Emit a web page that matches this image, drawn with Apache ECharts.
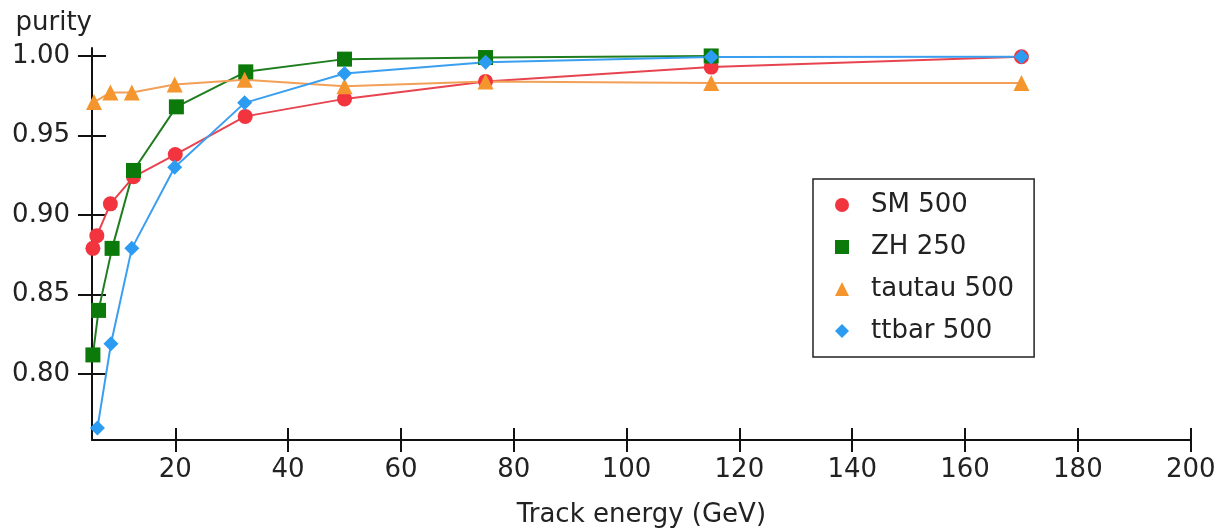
<!DOCTYPE html>
<html>
<head>
<meta charset="utf-8">
<script src="https://cdn.jsdelivr.net/npm/echarts@6/dist/echarts.min.js"></script>
<style>
  html, body { margin: 0; padding: 0; background: #fff; }
  #chart { width: 1219px; height: 529px; }
</style>
</head>
<body>
<div id="chart"></div>
<script>
// ---- data ----
const seriesNames = ['SM 500', 'ZH 250', 'tautau 500', 'ttbar 500'];

const smX = [5.4, 6.1, 8.5, 12.6, 20.0, 32.4, 50, 75, 115, 170];
const smY = [0.879, 0.887, 0.907, 0.924, 0.938, 0.962, 0.973, 0.984, 0.993, 0.9995];

const zhX = [5.4, 6.4, 8.8, 12.6, 20.2, 32.5, 50, 75, 115];
const zhY = [0.812, 0.840, 0.879, 0.928, 0.968, 0.990, 0.998, 0.999, 1.000];

const tautauX = [5.6, 8.5, 12.3, 19.9, 32.3, 50, 75, 115, 170];
const tautauY = [0.971, 0.977, 0.977, 0.982, 0.985, 0.981, 0.984, 0.983, 0.983];

const ttbarX = [6.2, 8.6, 12.3, 19.9, 32.3, 50, 75, 115, 170];
const ttbarY = [0.766, 0.819, 0.879, 0.930, 0.9705, 0.989, 0.996, 0.9994, 0.9995];

const xTicks = [20, 40, 60, 80, 100, 120, 140, 160, 180, 200];
const yTicks = [0.80, 0.85, 0.90, 0.95, 1.00];

const xMin = 5.24, xMax = 200;
const yMin = 0.7585, yMax = 1.005;

// ---- chart ----
const FONT = 'DejaVu Sans';
const TXT = '#222';
const zip = (xs, ys) => xs.map((x, i) => [x, ys[i]]);

const colors = {
  'SM 500': { sym: '#f2343f', line: '#e8444f' },
  'ZH 250': { sym: '#0b7a0b', line: '#1f7d1f' },
  'tautau 500': { sym: '#f5952e', line: '#f2a057' },
  'ttbar 500': { sym: '#2b9cf2', line: '#3a9ff0' }
};

function mkSeries(name, xs, ys, symbol, size) {
  return {
    name: name,
    type: 'line',
    data: zip(xs, ys),
    symbol: symbol,
    symbolSize: size,
    showSymbol: true,
    clip: true,
    itemStyle: { color: colors[name].sym },
    lineStyle: { color: colors[name].line, width: 2 },
    emphasis: { disabled: true },
    z: 2
  };
}

const chart = echarts.init(document.getElementById('chart'), null, { renderer: 'canvas' });

const baseX = {
  type: 'value', min: xMin, max: xMax, position: 'bottom',
  splitLine: { show: false }
};
const baseY = {
  type: 'value', min: yMin, max: yMax, position: 'left',
  splitLine: { show: false }
};

chart.setOption({
  animation: false,
  backgroundColor: '#fff',
  textStyle: { fontFamily: FONT },
  grid: { left: 92, right: 28.3, top: 48, bottom: 89, containLabel: false, outerBoundsMode: 'none' },
  legend: {
    orient: 'vertical',
    left: 813, top: 179,
    padding: [13, 20, 13, 22],
    itemWidth: 14, itemHeight: 14, itemGap: 16,
    backgroundColor: '#fff',
    borderColor: '#222', borderWidth: 1.5,
    selectedMode: false,
    textStyle: { fontFamily: FONT, fontSize: 26, color: TXT, padding: [0, 0, 0, 17] },
    data: [
      { name: 'SM 500', icon: 'circle' },
      { name: 'ZH 250', icon: 'rect' },
      { name: 'tautau 500', icon: 'triangle' },
      { name: 'ttbar 500', icon: 'diamond' }
    ]
  },
  xAxis: [
    Object.assign({}, baseX, {
      name: 'Track energy (GeV)',
      nameLocation: 'middle', nameGap: 62,
      nameTextStyle: { fontFamily: FONT, fontSize: 26, color: TXT },
      axisLine: { show: true, lineStyle: { color: '#111', width: 2 } },
      axisTick: { show: true, inside: false, length: 12, customValues: xTicks, lineStyle: { color: '#111', width: 2 } },
      axisLabel: { show: true, margin: 17, customValues: xTicks, fontFamily: FONT, fontSize: 26, color: TXT,
                   formatter: v => String(Math.round(v)) }
    }),
    Object.assign({}, baseX, {
      axisLine: { show: false },
      axisTick: { show: true, inside: true, length: 12, customValues: xTicks, lineStyle: { color: '#111', width: 2 } },
      axisLabel: { show: false }
    })
  ],
  yAxis: [
    Object.assign({}, baseY, {
      name: 'purity',
      nameLocation: 'end', nameGap: 12,
      nameTextStyle: { fontFamily: FONT, fontSize: 26, color: TXT, align: 'right' },
      axisLine: { show: true, lineStyle: { color: '#111', width: 2 } },
      axisTick: { show: true, inside: false, length: 14, customValues: yTicks, lineStyle: { color: '#111', width: 2 } },
      axisLabel: { show: true, margin: 22, customValues: yTicks, fontFamily: FONT, fontSize: 26, color: TXT,
                   formatter: v => v.toFixed(2) }
    }),
    Object.assign({}, baseY, {
      axisLine: { show: false },
      axisTick: { show: true, inside: true, length: 14, customValues: yTicks, lineStyle: { color: '#111', width: 2 } },
      axisLabel: { show: false }
    })
  ],
  series: [
    mkSeries('SM 500', smX, smY, 'circle', 15),
    mkSeries('ZH 250', zhX, zhY, 'rect', 15),
    mkSeries('tautau 500', tautauX, tautauY, 'triangle', 16),
    mkSeries('ttbar 500', ttbarX, ttbarY, 'diamond', 15)
  ]
});
</script>
</body>
</html>
